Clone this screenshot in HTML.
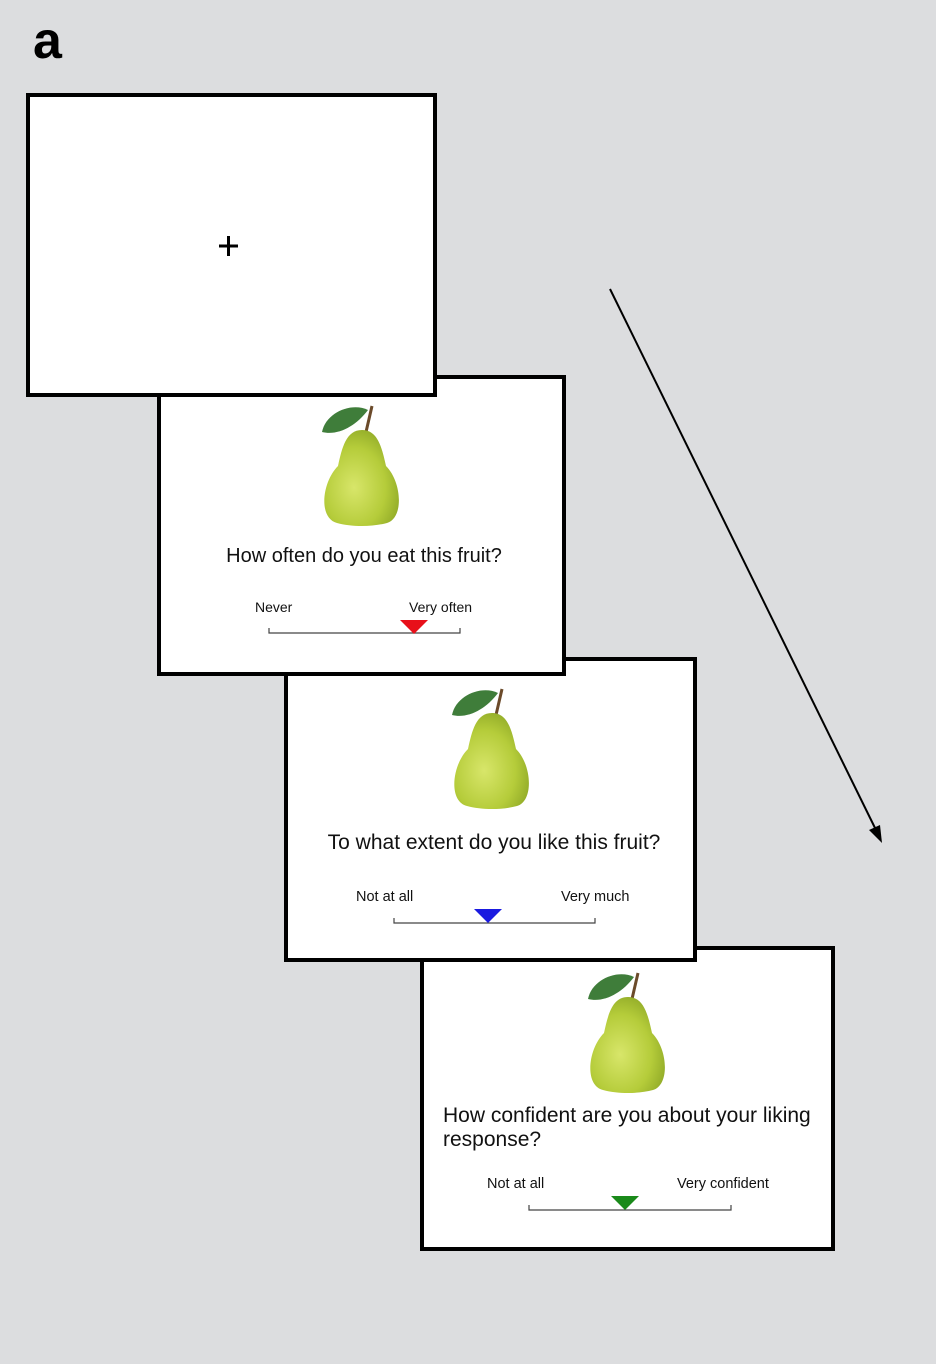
<!DOCTYPE html>
<html><head><style>
html,body{margin:0;padding:0;background:#dcdddf;}
svg{display:block;}
text{font-family:"Liberation Sans",Arial,sans-serif;fill:#111;}
</style></head><body>
<svg width="936" height="1364" viewBox="0 0 936 1364" xmlns="http://www.w3.org/2000/svg">
<defs>
<radialGradient id="pg" cx="0.4" cy="0.6" r="0.7">
<stop offset="0" stop-color="#d8e66a"/><stop offset="0.6" stop-color="#b5cc3a"/><stop offset="1" stop-color="#8aa424"/>
</radialGradient>
<g id="pear">
<path d="M4,2 L10,-24" stroke="#6b4a2a" stroke-width="3" fill="none"/>
<path d="M0,0 C-16,0 -20,18 -24,36 C-40,52 -44,88 -25,93 C-10,97 10,97 25,93 C42,88 40,52 24,36 C20,18 16,0 0,0 Z" fill="url(#pg)"/>
<path d="M-40,2 C-36,-18 -10,-28 6,-20 C-6,-4 -24,6 -40,2 Z" fill="#3f7d3a"/>
</g>
</defs>
<rect width="936" height="1364" fill="#dcdddf"/>
<text x="33" y="58" font-size="52" font-weight="bold" style="fill:#000">a</text>

<!-- Box 4 -->
<rect x="422" y="948" width="411" height="301" fill="#fff" stroke="#000" stroke-width="4"/>
<use href="#pear" transform="translate(628,997)"/>
<text x="443" y="1122" font-size="21">How confident are you about your liking</text>
<text x="443" y="1146" font-size="21">response?</text>
<text x="487" y="1188" font-size="14.5">Not at all</text>
<text x="677" y="1188" font-size="14.5">Very confident</text>
<path d="M529,1205 V1210 H731 V1205" stroke="#444" stroke-width="1.2" fill="none"/>
<polygon points="611,1196 639,1196 625,1210" fill="#1a8a1a"/>

<!-- Box 3 -->
<rect x="286" y="659" width="409" height="301" fill="#fff" stroke="#000" stroke-width="4"/>
<use href="#pear" transform="translate(492,713)"/>
<text x="494" y="849" font-size="21" text-anchor="middle">To what extent do you like this fruit?</text>
<text x="356" y="901" font-size="14.5">Not at all</text>
<text x="561" y="901" font-size="14.5">Very much</text>
<path d="M394,918 V923 H595 V918" stroke="#444" stroke-width="1.2" fill="none"/>
<polygon points="474,909 502,909 488,923" fill="#1a1ae0"/>

<!-- Box 2 -->
<rect x="159" y="377" width="405" height="297" fill="#fff" stroke="#000" stroke-width="4"/>
<use href="#pear" transform="translate(362,430)"/>
<text x="364" y="562" font-size="20" text-anchor="middle">How often do you eat this fruit?</text>
<text x="255" y="612" font-size="14">Never</text>
<text x="409" y="612" font-size="14">Very often</text>
<path d="M269,628 V633 H460 V628" stroke="#444" stroke-width="1.2" fill="none"/>
<polygon points="400,620 428,620 414,634" fill="#e8101a"/>

<!-- Box 1 -->
<rect x="28" y="95" width="407" height="300" fill="#fff" stroke="#000" stroke-width="4"/>
<path d="M219,246 H238 M228.5,236 V256" stroke="#000" stroke-width="3"/>

<!-- Arrow -->
<line x1="610" y1="289" x2="877" y2="832" stroke="#000" stroke-width="2"/>
<polygon points="882,843 869,830 880,825" fill="#000"/>
</svg>
</body></html>
